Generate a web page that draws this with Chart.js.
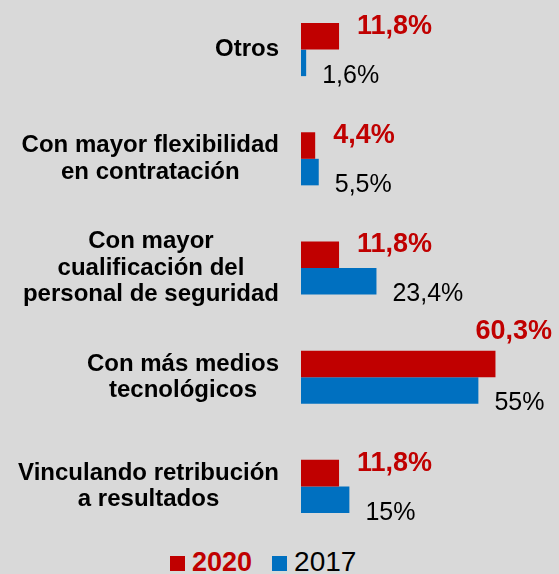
<!DOCTYPE html>
<html>
<head>
<meta charset="utf-8">
<script src="https://cdn.jsdelivr.net/npm/chart.js@4/dist/chart.umd.min.js"></script>
<style>
  html, body { margin: 0; padding: 0; background: #d9d9d9; width: 559px; height: 574px; overflow: hidden; }
  #wrap { position: relative; width: 559px; height: 574px; }
  #chart { position: absolute; left: 0; top: -5px; }
  #legend { position: absolute; left: 170px; top: 546px; font-family: "Liberation Sans", Arial, sans-serif; white-space: nowrap; }
  #legend span { display: inline-block; vertical-align: baseline; }
  .sq { width: 15px; height: 15px; margin-right: 7px; }
</style>
</head>
<body>
<div id="wrap">
  <canvas id="chart" width="559" height="546"></canvas>
  <div id="legend">
    <span class="sq" style="background:#c00000"></span><span style="color:#c00000;font-weight:bold;font-size:27px;margin-right:20px">2020</span><span class="sq" style="background:#0070c0"></span><span style="color:#000;font-size:28px">2017</span>
  </div>
</div>
<script>
const categories = [
  ['Otros'],
  ['Con mayor flexibilidad', 'en contratación'],
  ['Con mayor', 'cualificación del', 'personal de seguridad'],
  ['Con más medios', 'tecnológicos'],
  ['Vinculando retribución', 'a resultados']
];
const values2020 = [11.8, 4.4, 11.8, 60.3, 11.8];
const values2017 = [1.6, 5.5, 23.4, 55, 15];

const RED = '#c00000';
const BLUE = '#0070c0';
const FONT = '"Liberation Sans", Arial, sans-serif';

function fmt(v) {
  return String(v).replace('.', ',') + '%';
}

// category names: each block centred on itself, blocks right aligned
const categoryLabels = {
  id: 'categoryLabels',
  afterDraw(chart) {
    const ctx = chart.ctx;
    const yScale = chart.scales.y;
    const right = 279;
    const lineH = 26.5;
    ctx.save();
    ctx.font = 'bold 24px ' + FONT;
    ctx.fillStyle = '#000';
    ctx.textAlign = 'center';
    ctx.textBaseline = 'middle';
    categories.forEach((lines, i) => {
      const y = yScale.getPixelForValue(i);
      const w = Math.max(...lines.map(l => ctx.measureText(l).width));
      const cx = right - w / 2;
      const top = y - (lines.length - 1) * lineH / 2;
      lines.forEach((l, j) => ctx.fillText(l, cx, top + j * lineH));
    });
    ctx.restore();
  }
};

// value labels next to the bars
const valueLabels = {
  id: 'valueLabels',
  afterDatasetsDraw(chart) {
    const ctx = chart.ctx;
    const area = chart.chartArea;
    ctx.save();
    ctx.textAlign = 'left';
    ctx.textBaseline = 'middle';
    chart.data.datasets.forEach((ds, di) => {
      const meta = chart.getDatasetMeta(di);
      meta.data.forEach((bar, i) => {
        const text = fmt(ds.data[i]);
        if (di === 0) {
          ctx.font = 'bold 27px ' + FONT;
          ctx.fillStyle = RED;
        } else {
          ctx.font = '25px ' + FONT;
          ctx.fillStyle = '#000';
        }
        const w = ctx.measureText(text).width;
        let x = bar.x + (di === 0 ? 18 : 16);
        let y = bar.y + (di === 0 ? -10 : 13);
        if (x + w > area.right - 2) {
          x = area.right - 7 - w;
          y = bar.y - bar.height / 2 - 19;
        }
        ctx.fillText(text, x, y);
      });
    });
    ctx.restore();
  }
};

new Chart(document.getElementById('chart'), {
  type: 'bar',
  data: {
    labels: categories.map(c => c.join(' ')),
    datasets: [
      { label: '2020', data: values2020, backgroundColor: RED, categoryPercentage: 0.486, barPercentage: 1 },
      { label: '2017', data: values2017, backgroundColor: BLUE, categoryPercentage: 0.486, barPercentage: 1 }
    ]
  },
  options: {
    indexAxis: 'y',
    responsive: false,
    animation: false,
    layout: { padding: 0 },
    plugins: {
      legend: { display: false },
      tooltip: { enabled: false }
    },
    scales: {
      x: { display: false, min: 0, max: 80 },
      y: {
        ticks: { display: false },
        grid: { display: false },
        border: { display: false },
        afterFit(scale) { scale.width = 301; }
      }
    }
  },
  plugins: [categoryLabels, valueLabels]
});
</script>
</body>
</html>
